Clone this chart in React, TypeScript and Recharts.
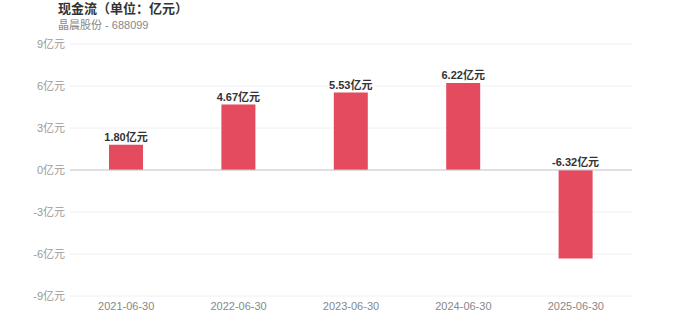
import { Bar, BarChart, CartesianGrid, LabelList, ReferenceLine, XAxis, YAxis } from 'recharts';

const categories = ['2021-06-30', '2022-06-30', '2023-06-30', '2024-06-30', '2025-06-30'];
const cashFlow = [1.8, 4.67, 5.53, 6.22, -6.32];
const yTicks = [-9, -6, -3, 0, 3, 6, 9];

const FONT = '"Liberation Sans", Arial, "Noto Sans CJK SC", sans-serif';

const data = categories.map((date, i) => ({ date, value: cashFlow[i] }));

function BarLabel(props: any) {
    const { x, y, width, height, value } = props;
    const top = Math.min(y, y + height);
    return (
        <text x={x + width / 2} y={top - 4} textAnchor="middle" fontSize={11} fontWeight="bold" fill="#333" fontFamily={FONT}>
            {Number(value).toFixed(2)}亿元
        </text>
    );
}

function App() {
    return (
        <div style={{ position: 'absolute', left: 0, top: 0, width: 700, height: 336, fontFamily: FONT }}>
            <div style={{ position: 'absolute', left: 58, top: 1, fontSize: 13, fontWeight: 'bold', color: '#333', lineHeight: '16px' }}>
                现金流（单位：亿元）
            </div>
            <div style={{ position: 'absolute', left: 58, top: 18, fontSize: 11, color: '#888', lineHeight: '14px' }}>
                晶晨股份 - 688099
            </div>
            <BarChart width={700} height={336} data={data} margin={{ top: 44, right: 68, bottom: 20, left: 8 }}>
                <CartesianGrid vertical={false} stroke="#f0f0f6" />
                <XAxis
                    dataKey="date"
                    axisLine={false}
                    tickLine={false}
                    tickSize={4}
                    tick={{ fontSize: 11, fill: '#888', fontFamily: FONT }}
                    height={20}
                />
                <YAxis
                    domain={[-9, 9]}
                    ticks={yTicks}
                    width={62}
                    axisLine={false}
                    tickLine={false}
                    tickSize={3}
                    tickFormatter={(v: number) => `${v}亿元`}
                    tick={{ fontSize: 11, fill: '#999', fontFamily: FONT }}
                />
                <ReferenceLine y={0} stroke="#c8c8c8" strokeWidth={1} />
                <Bar dataKey="value" fill="#e54b5f" barSize={34} isAnimationActive={false}>
                    <LabelList dataKey="value" content={BarLabel} />
                </Bar>
            </BarChart>
        </div>
    );
}

export default App;
